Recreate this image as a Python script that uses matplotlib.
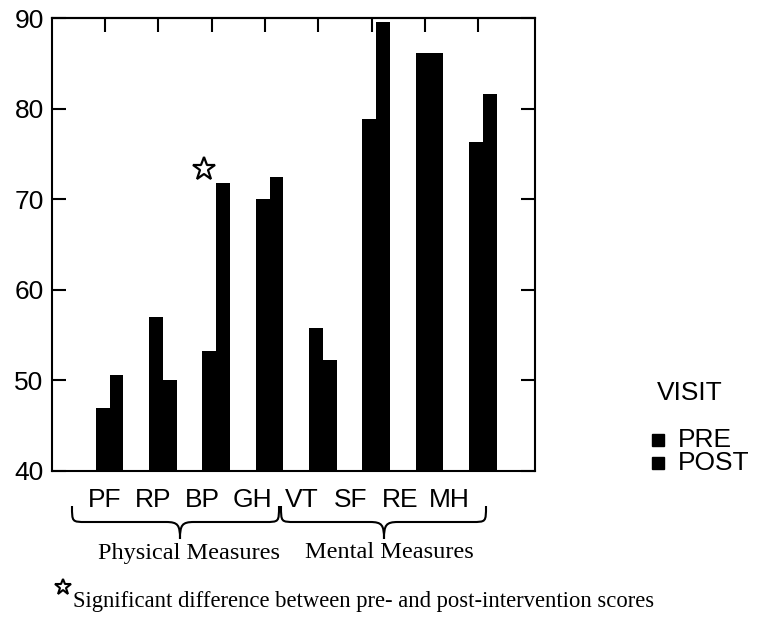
## Imports
import numpy as np
import matplotlib.pyplot as plt
from matplotlib.path import Path
from matplotlib.patches import PathPatch, Rectangle
from matplotlib.lines import Line2D

plt.rcParams['font.family'] = ['Liberation Sans', 'DejaVu Sans']

## Data
categories = ['PF', 'RP', 'BP', 'GH', 'VT', 'SF', 'RE', 'MH']
pre_scores = [47.0, 57.0, 53.2, 70.0, 55.8, 78.8, 86.1, 76.3]
post_scores = [50.6, 50.0, 71.8, 72.4, 52.2, 89.6, 86.1, 81.6]
significant = ['BP']
group_names = ['Physical Measures', 'Mental Measures']
legend_title = 'VISIT'
legend_labels = ['PRE', 'POST']
footnote = 'Significant difference between pre- and post-intervention scores'

W, H = 765, 618


# pixel (from top-left) -> figure fraction
def fx(px):
    return px / W


def fy(py):
    return 1 - py / H


fig = plt.figure(figsize=(W / 100, H / 100), dpi=100)
ax = fig.add_axes([fx(52), fy(471), fx(535) - fx(52), fy(18) - fy(471)])

x = np.arange(len(categories))
w = 0.26
ax.bar(x - w / 2, pre_scores, w, color='black', label=legend_labels[0])
ax.bar(x + w / 2, post_scores, w, color='black', label=legend_labels[1])

# star over the significant measure
for c in significant:
    i = categories.index(c)
    ax.plot(i - 0.23, post_scores[i] + 1.5, marker='*', ms=17, mfc='white',
            mec='black', mew=1.6, clip_on=False)

ax.set_xlim(-1.08, 7.98)
ax.set_ylim(40, 90)
ax.set_yticks([40, 50, 60, 70, 80, 90])
ax.tick_params(axis='y', direction='in', length=10, width=1.5, right=True,
               labelsize=19, pad=6)

# category labels sit a bit tighter than the bars
label_pos = -0.10 + 0.925 * x
ax.set_xticks(label_pos, categories)
ax.tick_params(axis='x', bottom=False, direction='in', pad=12, labelsize=19)

top = ax.secondary_xaxis('top')
top.set_xticks(x - 0.085)
top.tick_params(direction='in', length=10, width=1.5, labeltop=False)

for s in ax.spines.values():
    s.set_linewidth(1.5)
top.spines['top'].set_linewidth(1.5)


## Braces under the categories
def brace(x0, x1, xm, yt, ym, ytip, r=14):
    verts = [(x0, yt), (x0, ym), (x0, ym), (x0 + r, ym),
             (xm - r, ym),
             (xm - 2, ym), (xm, ym + 3), (xm, ytip),
             (xm, ym + 3), (xm + 2, ym), (xm + r, ym),
             (x1 - r, ym),
             (x1, ym), (x1, ym), (x1, yt)]
    codes = [Path.MOVETO, Path.CURVE4, Path.CURVE4, Path.CURVE4,
             Path.LINETO,
             Path.CURVE4, Path.CURVE4, Path.CURVE4,
             Path.CURVE4, Path.CURVE4, Path.CURVE4,
             Path.LINETO,
             Path.CURVE4, Path.CURVE4, Path.CURVE4]
    verts = [(fx(a), fy(b)) for a, b in verts]
    fig.add_artist(PathPatch(Path(verts, codes), fill=False, lw=1.5,
                             ec='black', transform=fig.transFigure))


brace(72, 279, 180, 506, 522, 539)
brace(281, 486, 384, 506, 522, 539)

fig.text(fx(189), fy(553), group_names[0], family='Liberation Serif',
         fontsize=17.5, ha='center', va='center')
fig.text(fx(389), fy(553), group_names[1], family='Liberation Serif',
         fontsize=17.5, ha='center', va='center')

## Footnote
fig.add_artist(Line2D([fx(63)], [fy(587)], marker='*', ms=12, mfc='white',
                      mec='black', mew=1.5, transform=fig.transFigure))
fig.text(fx(73), fy(601), footnote, family='Liberation Serif', fontsize=16.3,
         ha='left', va='center')

## Legend (drawn by hand for the tight spacing)
fig.text(fx(657), fy(393), legend_title, fontsize=19, ha='left', va='center')
for lab, yy in zip(legend_labels, [440, 463]):
    fig.add_artist(Rectangle((fx(652), fy(yy + 6)), fx(12), fy(0) - fy(12),
                             color='black', transform=fig.transFigure))
    fig.text(fx(678), fy(yy), lab, fontsize=19, ha='left', va='center')

plt.savefig('out.png', dpi=100)
